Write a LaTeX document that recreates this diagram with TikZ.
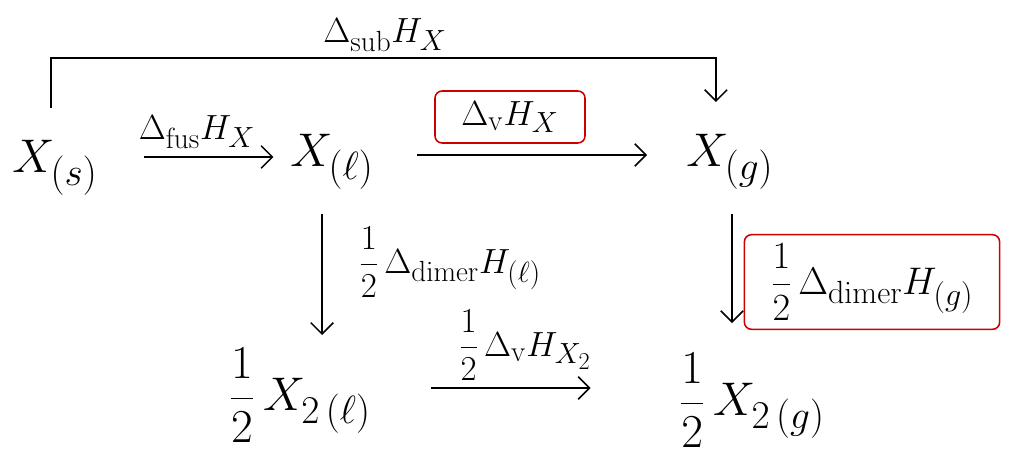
\documentclass[tikz,border=0pt]{standalone}
\usetikzlibrary{arrows.meta}
\tikzset{
  species/.style={font=\Huge, scale=1.35, inner sep=2pt},
  enth/.style={font=\Huge, inner sep=2pt},
  arr/.style={line width=1.1pt, -{Straight Barb[length=8pt,width=16pt,line width=1.1pt]}},
  redbox/.style={draw=red!80!black, line width=1.1pt, rounded corners=5pt}
}
\begin{document}
\begin{tikzpicture}[x=0.025cm, y=-0.025cm]
        \useasboundingbox (0,0) rectangle (1010,461);
        % Species
        \node[species] (xs) at (55,168) {$X_{(s)}$};
        \node[species] (xl) at (332,162) {$X_{(\ell)}$};
        \node[species] (xg) at (730,162) {$X_{(g)}$};
        \node[species] (x2l) at (300,395) {$\displaystyle\frac{1}{2}\,X_{2\,(\ell)}$};
        \node[species] (x2g) at (752,400) {$\displaystyle\frac{1}{2}\,X_{2\,(g)}$};
        
        % Sublimation
        \coordinate (top) at (385,58);
        \node[enth] (sub) at (385,35) {$\Delta_{\mathrm{sub}}H_X$};
        \draw[arr, shorten <=20pt, shorten >=20pt] ([xshift=-3pt]xs.north) |- (top) -| ([xshift=-10pt]xg.north);
        
        % Fusion and vaporisation
        \node[enth] (fus) at (197,132) {$\Delta_{\mathrm{fus}}H_X$};
        \draw[arr, shorten <=30pt, shorten >=9pt] (xs.east |- 0,157) -- (xl.west |- 0,157);
        \node[enth, redbox, minimum width=150*0.025cm, minimum height=52*0.025cm] (vap) at (510,117) {$\Delta_{\mathrm{v}}H_X$};
        \draw[arr, shorten <=28pt, shorten >=25pt] (xl.east |- 0,155) -- (xg.west |- 0,155);
        
        % Dimerisation
        \node[enth] (diml) at (450,262) {$\displaystyle\frac{1}{2}\,\Delta_{\mathrm{dimer}}H_{(\ell)}$};
        \draw[arr, shorten <=14pt, shorten >=6pt] (xl.south -| 322,0) -- (x2l.north -| 322,0);
        \node[enth, redbox, scale=1.1, minimum width=232*0.025cm, minimum height=86*0.025cm] (dimg) at (872,282) {$\displaystyle\frac{1}{2}\,\Delta_{\mathrm{dimer}}H_{(g)}$};
        \draw[arr, shorten <=14pt, shorten >=18pt] (xg.south -| 732,0) -- (x2g.north -| 732,0);
        
        % Dimer vaporisation
        \node[enth] (vap2) at (525,345) {$\displaystyle\frac{1}{2}\,\Delta_{\mathrm{v}}H_{X_2}$};
        \draw[arr, shorten <=40pt, shorten >=60pt] (x2l.east |- 0,388) -- (x2g.west |- 0,388);
    \end{tikzpicture}
\end{document}
